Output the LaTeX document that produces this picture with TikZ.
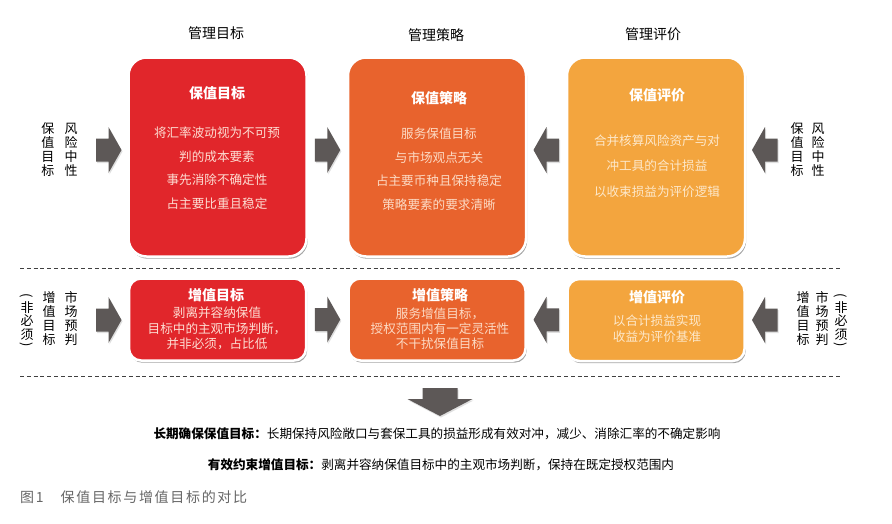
\documentclass[tikz,border=0pt]{standalone}
\usepackage{fontspec}
\setmainfont{Noto Sans CJK SC}
\newfontfamily\capfont[LetterSpace=12]{Noto Sans CJK SC}
\usetikzlibrary{shadows,calc}
\definecolor{cred}{HTML}{E1262B}
\definecolor{corg}{HTML}{E8632D}
\definecolor{cyel}{HTML}{F3A53E}
\definecolor{arrowc}{HTML}{5D5857}
\definecolor{tred}{HTML}{FDDDD2}
\definecolor{torg}{HTML}{FCDAC4}
\definecolor{tyel}{HTML}{FDE8CA}
\definecolor{capgray}{HTML}{666666}
\tikzset{
  box/.style={rounded corners=#1, draw=white, line width=2.5pt, inner sep=0pt,
    drop shadow={shadow xshift=1.2pt, shadow yshift=-2.2pt, opacity=0.35, fill=black}},
  bigbox/.style={box=18pt, minimum width=178pt, minimum height=199pt},
  smallbox/.style={box=12pt, minimum width=177pt, minimum height=82pt},
  ttl/.style={font=\fontsize{14}{16}\selectfont\bfseries, text=white, inner sep=0pt},
  bodyA/.style={font=\fontsize{12.6}{23.5}\selectfont, align=center, inner sep=0pt},
  bodyB/.style={font=\fontsize{12.6}{15.2}\selectfont, align=center, inner sep=0pt},
  hdr/.style={font=\fontsize{14}{16}\selectfont, inner sep=0pt},
  vlab/.style={font=\fontsize{13}{14}\selectfont, align=center, inner sep=0pt},
  vlabs/.style={font=\fontsize{13}{13.3}\selectfont, align=center, inner sep=0pt},
  paren/.style={font=\fontsize{13}{14}\selectfont, inner sep=0pt, rotate=-90},
  note/.style={font=\fontsize{12.6}{14}\selectfont, inner sep=0pt},
  rarr/.pic={\fill[arrowc, drop shadow={shadow xshift=1pt, shadow yshift=-1.5pt, opacity=0.25}]
    (-12.5,-11.5) -- (0,-11.5) -- (0,-23) -- (13,0) -- (0,23) -- (0,11.5) -- (-12.5,11.5) -- cycle;},
  darr/.pic={\fill[arrowc, drop shadow={shadow xshift=1pt, shadow yshift=-1.5pt, opacity=0.25}]
    (-17.5,-14) -- (17.5,-14) -- (17.5,-3) -- (32.5,-3) -- (0,14) -- (-32.5,-3) -- (-17.5,-3) -- cycle;},
  dline/.style={draw=black!75, line width=0.8pt, dash pattern=on 4pt off 2.8pt}
}
\begin{document}
\begin{tikzpicture}[x=1pt,y=-1pt]
\useasboundingbox[fill=white] (0,0) rectangle (892,523);

% headers
\node[hdr] (h1) at (216,33) {管理目标};
\node[hdr] (h2) at (436,35) {管理策略};
\node[hdr] (h3) at (653,34) {管理评价};

% top boxes
\node[bigbox, fill=cred] (b1) at (217.5,157) {};
\node[bigbox, fill=corg] (b2) at (437,157) {};
\node[bigbox, fill=cyel] (b3) at (656,157) {};

\node[ttl] (t1) at (217,93) {保值目标};
\node[bodyA, text=tred] (x1) at (217,168) {将汇率波动视为不可预\\判的成本要素\\事先消除不确定性\\占主要比重且稳定};
\node[ttl] (t2) at (439,98) {保值策略};
\node[bodyA, text=torg] (x2) at (439,169) {服务保值目标\\与市场观点无关\\占主要币种且保持稳定\\策略要素的要求清晰};
\node[ttl] (t3) at (657,95) {保值评价};
\node[bodyA, font=\fontsize{12.6}{25.5}\selectfont, text=tyel] (x3) at (657,166) {合并核算风险资产与对\\冲工具的合计损益\\以收束损益为评价逻辑};

% top side labels
\node[vlab] (l1a) at (48,150) {保\\值\\目\\标};
\node[vlab] (l1b) at (71,150) {风\\险\\中\\性};
\node[vlab] (r1a) at (797,150) {保\\值\\目\\标};
\node[vlab] (r1b) at (818,150) {风\\险\\中\\性};

% top arrows
\pic at (108.5,150) {rarr};
\pic at ($(b1.east)!0.5!(b2.west)+(0,-7)$) {rarr};
\pic[xscale=-1] at ($(b2.east)!0.5!(b3.west)+(0,-7)$) {rarr};
\pic[xscale=-1] at (765,150) {rarr};

% dashed lines
\coordinate (d1s) at (20,268); \coordinate (d1e) at (841,268);
\coordinate (d2s) at (20,376); \coordinate (d2e) at (841,376);
\draw[dline] (d1s) -- (d1e);
\draw[dline] (d2s) -- (d2e);

% bottom boxes
\node[smallbox, fill=cred] (b4) at (217.5,319.5) {};
\node[smallbox, fill=corg] (b5) at (437,319.5) {};
\node[smallbox, fill=cyel] (b6) at (656,320) {};

\node[ttl] (t4) at (216,295) {增值目标};
\node[bodyB, text=tred] (x4) at (217,328.5) {剥离并容纳保值\\目标中的主观市场判断，\\并非必须，占比低};
\node[ttl] (t5) at (440,295) {增值策略};
\node[bodyB, text=torg] (x5) at (440,328.5) {服务增值目标，\\授权范围内有一定灵活性\\不干扰保值目标};
\node[ttl] (t6) at (657,297) {增值评价};
\node[bodyB, font=\fontsize{12.6}{16}\selectfont, text=tyel] (x6) at (657,329) {以合计损益实现\\收益为评价基准};

% bottom side labels
\node[vlabs] (l2a) at (27,321) {非\\必\\须};
\node[paren] (l2p) at (27,295.5) {(};
\node[paren] (l2q) at (27,345) {)};
\node[vlab] (l2b) at (49,319) {增\\值\\目\\标};
\node[vlab] (l2c) at (71,319) {市\\场\\预\\判};
\node[vlab] (r2a) at (803,319) {增\\值\\目\\标};
\node[vlab] (r2b) at (822,319) {市\\场\\预\\判};
\node[vlabs] (r2c) at (841,321) {非\\必\\须};
\node[paren] (r2p) at (841,295.5) {(};
\node[paren] (r2q) at (841,345) {)};

% bottom arrows
\pic at (108.5,320) {rarr};
\pic at ($(b4.east)!0.5!(b5.west)$) {rarr};
\pic[xscale=-1] at ($(b5.east)!0.5!(b6.west)$) {rarr};
\pic[xscale=-1] at (765,320) {rarr};

% down arrow
\pic at (440,402) {darr};

% notes
\node[note] (n1) at (437,434) {\textbf{长期确保保值目标：}长期保持风险敞口与套保工具的损益形成有效对冲，减少、消除汇率的不确定影响};
\node[note] (n2) at (441,465) {\textbf{有效约束增值目标：}剥离并容纳保值目标中的主观市场判断，保持在既定授权范围内};

% caption
\node[anchor=west, inner sep=0pt, text=capgray, font=\fontsize{14}{16}\selectfont\capfont] (cap) at (20,497) {图1\hspace{17pt}保值目标与增值目标的对比};
\end{tikzpicture}
\end{document}
